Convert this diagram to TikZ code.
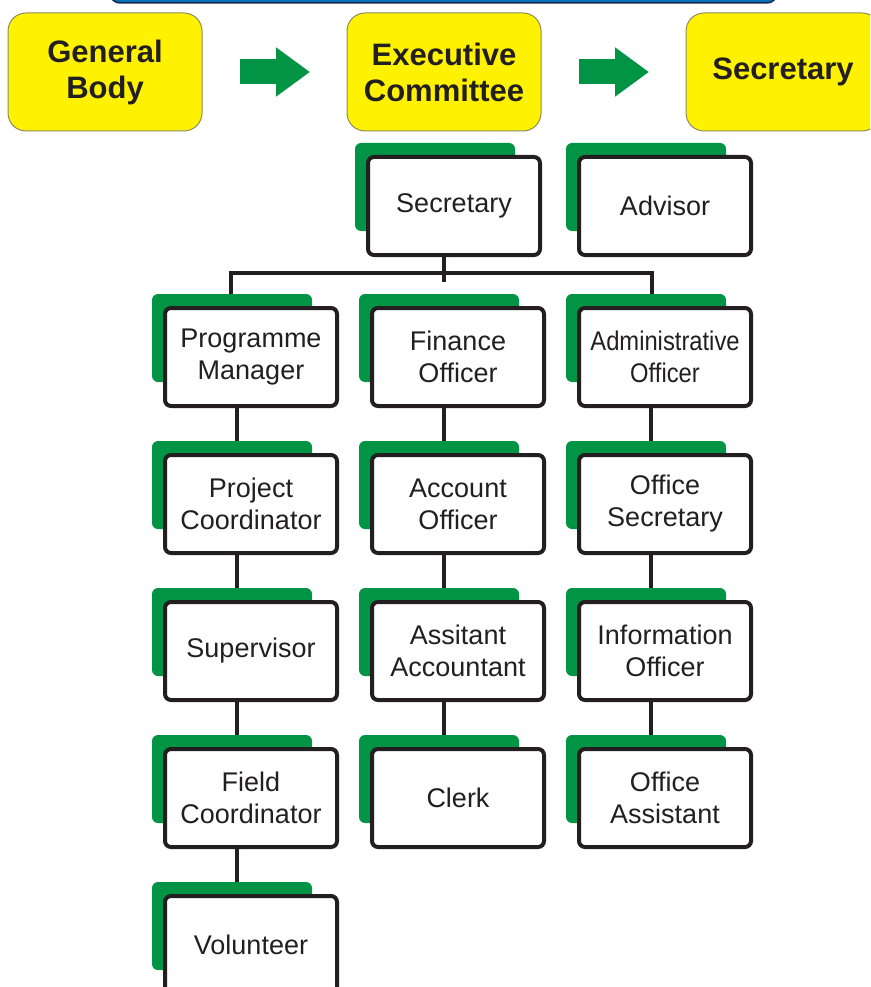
\documentclass[tikz,border=0pt]{standalone}
\usepackage{fontspec}
\setmainfont{Liberation Sans}
\newfontfamily\narrowfont[FakeStretch=0.88]{Liberation Sans}
\usetikzlibrary{positioning, arrows.meta, backgrounds}
\definecolor{boxyellow}{HTML}{FFF200}
\definecolor{boxgreen}{HTML}{009444}
\definecolor{darktext}{HTML}{231F20}
\definecolor{barblue}{HTML}{0072BC}
\definecolor{barnavy}{HTML}{1B2A4A}
\definecolor{yellowedge}{HTML}{8C8C5A}
\newcommand{\colgap}{35pt}
\newcommand{\rowgap}{49pt}
\newcommand{\bigarrowtip}{-{Triangle[length=34pt,width=47pt]}}
\tikzset{
    headbox/.style={draw=yellowedge, line width=1pt, fill=boxyellow, rounded corners=18pt,
        minimum width=194pt, minimum height=118pt, align=center, text=darktext,
        font=\bfseries\fontsize{31}{36}\selectfont, outer sep=0pt},
    rolebox/.style={draw=darktext, line width=4pt, fill=white, rounded corners=6pt,
        minimum width=172pt, minimum height=98pt, align=center, text=darktext,
        font=\fontsize{27}{32}\selectfont, outer sep=0pt, inner sep=2pt},
    link/.style={draw=darktext, line width=4.5pt},
    bigarrow/.style={draw=boxgreen, line width=25pt, \bigarrowtip},
}

\begin{document}
\begin{tikzpicture}[x=1pt, y=-1pt]
    \useasboundingbox (0,0) rectangle (870,987);
    \clip (0,0) rectangle (870,987);
    % banner cut off at the top
    \draw[draw=barnavy, line width=1.5pt, fill=barblue, rounded corners=10pt]
        (110,-40) rectangle (777,3);
    % top line
    \node[headbox] (genbody) at (105,72) {General\\Body};
    \node[headbox, right=145pt of genbody] (execcom) {Executive\\Committee};
    \node[headbox, right=145pt of execcom] (secyhead) {Secretary};
    \draw[bigarrow] ([xshift=38pt]genbody.east) -- ([xshift=-37pt]execcom.west);
    \draw[bigarrow] ([xshift=38pt]execcom.east) -- ([xshift=-37pt]secyhead.west);
    % staff
    \node[rolebox] (prog) at (251,357) {Programme\\Manager};
    \node[rolebox, right=\colgap of prog] (fin) {Finance\\Officer};
    \node[rolebox, right=\colgap of fin, font=\narrowfont\fontsize{27}{32}\selectfont] (admin) {Administrative\\Officer};
    \node[rolebox, above=53pt of admin] (adv) {Advisor};
    \node[rolebox, left=39pt of adv] (secy) {Secretary};
    \node[rolebox, below=\rowgap of prog] (proj) {Project\\Coordinator};
    \node[rolebox, below=\rowgap of proj] (sup) {Supervisor};
    \node[rolebox, below=\rowgap of sup] (field) {Field\\Coordinator};
    \node[rolebox, below=\rowgap of field] (vol) {Volunteer};
    \node[rolebox, below=\rowgap of fin] (acc) {Account\\Officer};
    \node[rolebox, below=\rowgap of acc] (asst) {Assitant\\Accountant};
    \node[rolebox, below=\rowgap of asst] (clerk) {Clerk};
    \node[rolebox, below=\rowgap of admin] (offsec) {Office\\Secretary};
    \node[rolebox, below=\rowgap of offsec] (info) {Information\\Officer};
    \node[rolebox, below=\rowgap of info] (offasst) {Office\\Assistant};
    \begin{pgfonlayer}{background}
        \draw[link] ([xshift=-10pt]secy.south) -- ++(0,27);
        \draw[link] ([xshift=-20pt]prog.north) -- ++(0,-35) -| ([xshift=-13pt]admin.north);
        \foreach \upper/\lower in {prog/proj, proj/sup, sup/field, field/vol,
            fin/acc, acc/asst, asst/clerk, admin/offsec, offsec/info, info/offasst}
            \draw[link] ([xshift=-14pt]\upper.south) -- ([xshift=-14pt]\lower.north);
        \foreach \n in {secy, adv, prog, proj, sup, field, vol, fin, acc, asst, clerk,
            admin, offsec, info, offasst}
            \fill[boxgreen, rounded corners=6pt] ([shift={(-13,-14)}]\n.north west) rectangle ++(160,88);
    \end{pgfonlayer}
\end{tikzpicture}
\end{document}
